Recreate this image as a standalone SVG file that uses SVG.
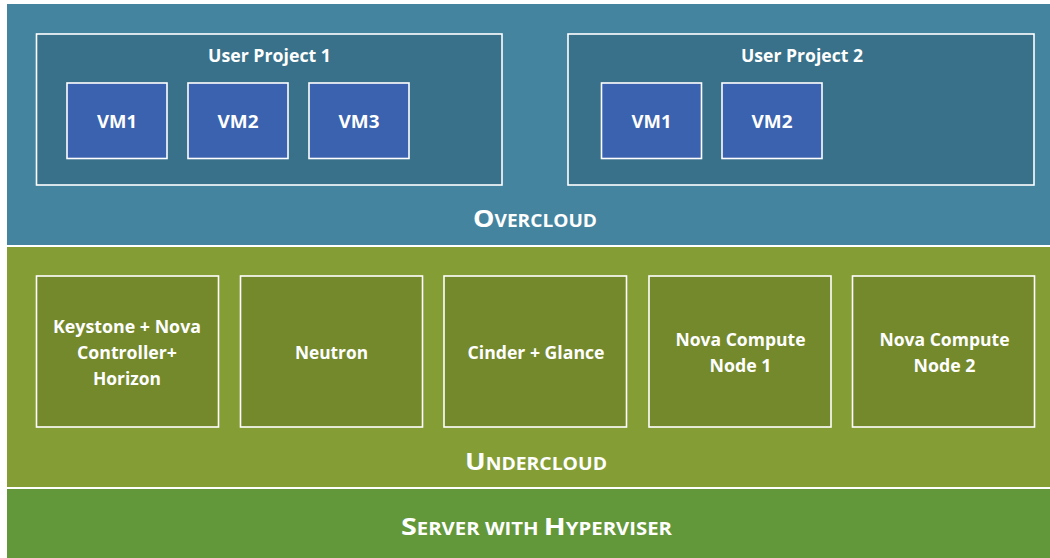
<svg xmlns="http://www.w3.org/2000/svg" width="1050" height="558" viewBox="0 0 1050 558">
<style>
.band-o{fill:#44849F}
.band-u{fill:#849D35}
.band-s{fill:#62983A}
.proj{fill:#39718A;stroke:#fff;stroke-width:1.6}
.vm{fill:#3A62AE;stroke:#fff;stroke-width:1.6}
.svc{fill:#74892B;stroke:#fff;stroke-width:1.6}
.sep{stroke:#fff;stroke-width:2}
text{font-family:"Open Sans","Liberation Sans",sans-serif;font-weight:700;fill:#fff;text-anchor:middle}
.lbl{font-size:17.5px}
.vml{font-size:18.5px}
.hd{font-size:24px}
.sc{font-size:17px}
</style>
<rect width="1050" height="558" fill="#fff"/>
<g id="overcloud">
<rect class="band-o" x="7" y="4" width="1043" height="241"/>
<text class="hd" x="535" y="227" textLength="124" lengthAdjust="spacingAndGlyphs">O<tspan class="sc">VERCLOUD</tspan></text>
</g>
<g id="undercloud">
<rect class="band-u" x="7" y="247" width="1043" height="240"/>
<text class="hd" x="536" y="470" textLength="142" lengthAdjust="spacingAndGlyphs">U<tspan class="sc">NDERCLOUD</tspan></text>
</g>
<g id="server">
<rect class="band-s" x="7" y="489" width="1043" height="69"/>
<text class="hd" x="536.5" y="535" textLength="271" lengthAdjust="spacingAndGlyphs">S<tspan class="sc">ERVER WITH </tspan>H<tspan class="sc">YPERVISER</tspan></text>
</g>
<g id="connectors">
<line class="sep" x1="7" y1="246" x2="1050" y2="246"/>
<line class="sep" x1="7" y1="488" x2="1050" y2="488"/>
</g>
<g id="project1">
<rect class="proj" x="36.5" y="34" width="465.5" height="151"/>
<text class="lbl" x="269.5" y="62" textLength="123" lengthAdjust="spacingAndGlyphs">User Project 1</text>
</g>
<g id="p1-vm1"><rect class="vm" x="67" y="83" width="100" height="75.5"/><text class="vml" x="117" y="128" textLength="40" lengthAdjust="spacingAndGlyphs">VM1</text></g>
<g id="p1-vm2"><rect class="vm" x="188" y="83" width="100" height="75.5"/><text class="vml" x="238" y="128" textLength="41" lengthAdjust="spacingAndGlyphs">VM2</text></g>
<g id="p1-vm3"><rect class="vm" x="309" y="83" width="100" height="75.5"/><text class="vml" x="359" y="128" textLength="41" lengthAdjust="spacingAndGlyphs">VM3</text></g>
<g id="project2">
<rect class="proj" x="568" y="34" width="466" height="151"/>
<text class="lbl" x="802" y="62" textLength="122" lengthAdjust="spacingAndGlyphs">User Project 2</text>
</g>
<g id="p2-vm1"><rect class="vm" x="601.5" y="83" width="100" height="75.5"/><text class="vml" x="651.5" y="128" textLength="40" lengthAdjust="spacingAndGlyphs">VM1</text></g>
<g id="p2-vm2"><rect class="vm" x="722" y="83" width="100" height="75.5"/><text class="vml" x="772" y="128" textLength="41" lengthAdjust="spacingAndGlyphs">VM2</text></g>
<g id="keystone">
<rect class="svc" x="36.5" y="276" width="182" height="151"/>
<text class="lbl" x="127" y="333" textLength="148" lengthAdjust="spacingAndGlyphs">Keystone + Nova</text>
<text class="lbl" x="127" y="358.5" textLength="100" lengthAdjust="spacingAndGlyphs">Controller+</text>
<text class="lbl" x="127" y="385" textLength="68" lengthAdjust="spacingAndGlyphs">Horizon</text>
</g>
<g id="neutron">
<rect class="svc" x="240.5" y="276" width="182" height="151"/>
<text class="lbl" x="331.5" y="358.5" textLength="73" lengthAdjust="spacingAndGlyphs">Neutron</text>
</g>
<g id="cinder">
<rect class="svc" x="444" y="276" width="182.5" height="151"/>
<text class="lbl" x="536" y="358.5" textLength="137" lengthAdjust="spacingAndGlyphs">Cinder + Glance</text>
</g>
<g id="compute1">
<rect class="svc" x="649" y="276" width="182" height="151"/>
<text class="lbl" x="740.5" y="345.5" textLength="130" lengthAdjust="spacingAndGlyphs">Nova Compute</text>
<text class="lbl" x="740.5" y="371.5" textLength="62" lengthAdjust="spacingAndGlyphs">Node 1</text>
</g>
<g id="compute2">
<rect class="svc" x="852.5" y="276" width="182" height="151"/>
<text class="lbl" x="944.5" y="345.5" textLength="130" lengthAdjust="spacingAndGlyphs">Nova Compute</text>
<text class="lbl" x="944.5" y="371.5" textLength="62" lengthAdjust="spacingAndGlyphs">Node 2</text>
</g>
</svg>
